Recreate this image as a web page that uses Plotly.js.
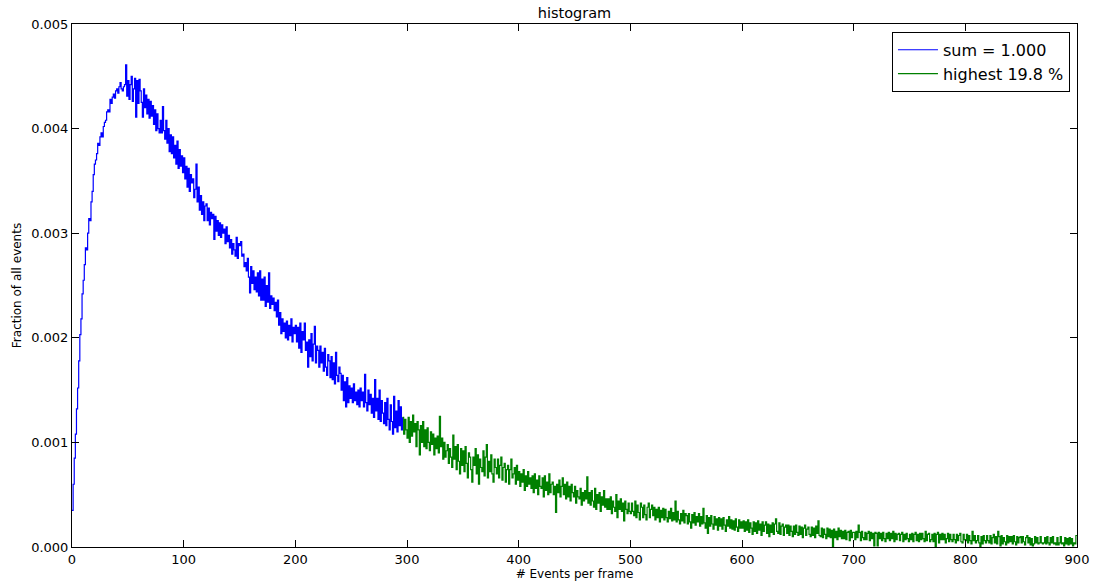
<!DOCTYPE html>
<html><head><meta charset="utf-8">
<script src="https://cdn.plot.ly/plotly-3.0.1.min.js"></script>
<style>html,body{margin:0;padding:0;background:#fff}#chart{width:1094px;height:587px}</style>
</head><body><div id="chart"></div>
<script>
// Histogram: fraction of all events per bin (bin width 1 event)
const binStart = 0;
const binWidth = 1;
const highestStartBin = 296;

// bins 0..295
const fractionBlue = [
0.00035,0.00060,0.00085,0.00108,0.00132,0.00152,0.00178,0.00203,0.00218,0.00242,
0.00255,0.00270,0.00286,0.00284,0.00300,0.00314,0.00312,0.00330,0.00340,0.00356,
0.00366,0.00370,0.00376,0.00386,0.00384,0.00392,0.00396,0.00392,0.00402,0.00406,
0.00408,0.00416,0.00418,0.00416,0.00428,0.00424,0.00430,0.00433,0.00429,0.00436,
0.00438,0.00434,0.00440,0.00444,0.00438,0.00436,0.00440,0.00442,0.00461,0.00431,
0.00446,0.00428,0.00442,0.00450,0.00426,0.00438,0.00448,0.00411,0.00446,0.00424,
0.00447,0.00436,0.00425,0.00411,0.00438,0.00420,0.00432,0.00414,0.00428,0.00410,
0.00426,0.00412,0.00422,0.00404,0.00418,0.00398,0.00414,0.00400,0.00396,0.00408,
0.00396,0.00421,0.00398,0.00390,0.00408,0.00386,0.00400,0.00378,0.00394,0.00376,
0.00392,0.00372,0.00384,0.00366,0.00388,0.00362,0.00380,0.00364,0.00374,0.00358,
0.00372,0.00352,0.00364,0.00344,0.00362,0.00340,0.00356,0.00348,0.00352,0.00334,
0.00342,0.00366,0.00330,0.00344,0.00322,0.00336,0.00318,0.00330,0.00312,0.00326,
0.00328,0.00312,0.00324,0.00308,0.00320,0.00314,0.00318,0.00294,0.00316,0.00302,
0.00312,0.00298,0.00310,0.00296,0.00308,0.00300,0.00304,0.00290,0.00306,0.00292,
0.00298,0.00286,0.00294,0.00280,0.00290,0.00284,0.00278,0.00296,0.00276,0.00290,
0.00288,0.00292,0.00278,0.00280,0.00268,0.00272,0.00264,0.00276,0.00258,0.00243,
0.00268,0.00252,0.00264,0.00246,0.00258,0.00244,0.00262,0.00240,0.00264,0.00236,
0.00256,0.00236,0.00258,0.00230,0.00250,0.00234,0.00262,0.00228,0.00240,0.00232,
0.00238,0.00226,0.00234,0.00220,0.00236,0.00212,0.00224,0.00204,0.00218,0.00206,
0.00214,0.00200,0.00216,0.00198,0.00212,0.00202,0.00218,0.00196,0.00210,0.00204,
0.00212,0.00196,0.00210,0.00190,0.00214,0.00186,0.00206,0.00198,0.00214,0.00188,
0.00196,0.00172,0.00198,0.00182,0.00204,0.00178,0.00194,0.00211,0.00176,0.00192,
0.00188,0.00172,0.00192,0.00176,0.00186,0.00168,0.00190,0.00172,0.00164,0.00184,
0.00178,0.00162,0.00182,0.00160,0.00176,0.00156,0.00186,0.00164,0.00158,0.00172,
0.00166,0.00150,0.00164,0.00140,0.00158,0.00134,0.00162,0.00138,0.00154,0.00142,
0.00152,0.00138,0.00156,0.00140,0.00148,0.00136,0.00150,0.00134,0.00152,0.00140,
0.00148,0.00134,0.00165,0.00138,0.00130,0.00150,0.00136,0.00146,0.00128,0.00142,
0.00124,0.00160,0.00130,0.00142,0.00122,0.00150,0.00120,0.00140,0.00128,0.00118,
0.00138,0.00116,0.00142,0.00122,0.00112,0.00136,0.00120,0.00108,0.00144,0.00114,
0.00130,0.00110,0.00140,0.00116,0.00134,0.00112
];

// bins 296..899 (highest 19.8 %)
const fractionGreen = [
0.00124,0.00108,0.00122,0.00112,
0.00104,0.00124,0.00100,0.00120,0.00106,0.00126,0.00110,0.00118,0.00096,0.00120,
0.00112,0.00088,0.00116,0.00100,0.00120,0.00096,0.00112,0.00094,0.00114,0.00100,
0.00092,0.00110,0.00098,0.00108,0.00088,0.00104,0.00094,0.00106,0.00090,0.00125,
0.00096,0.00104,0.00084,0.00100,0.00086,0.00092,0.00098,0.00080,0.00094,0.00086,
0.00076,0.00107,0.00084,0.00096,0.00074,0.00098,0.00082,0.00070,0.00094,0.00078,
0.00092,0.00072,0.00096,0.00080,0.00066,0.00090,0.00086,0.00074,0.00062,0.00086,
0.00078,0.00094,0.00070,0.00088,0.00060,0.00084,0.00076,0.00072,0.00092,0.00068,
0.00086,0.00098,0.00066,0.00082,0.00072,0.00088,0.00070,0.00062,0.00084,0.00076,
0.00070,0.00084,0.00066,0.00078,0.00086,0.00064,0.00076,0.00080,0.00062,0.00074,
0.00078,0.00060,0.00074,0.00084,0.00066,0.00070,0.00076,0.00060,0.00078,0.00064,
0.00072,0.00058,0.00070,0.00062,0.00074,0.00054,0.00068,0.00058,0.00072,0.00060,
0.00066,0.00056,0.00068,0.00052,0.00070,0.00056,0.00064,0.00050,0.00068,0.00058,
0.00056,0.00066,0.00048,0.00068,0.00054,0.00062,0.00050,0.00070,0.00052,0.00060,
0.00062,0.00050,0.00058,0.00033,0.00060,0.00052,0.00064,0.00048,0.00058,0.00066,
0.00050,0.00060,0.00046,0.00062,0.00048,0.00058,0.00044,0.00060,0.00052,0.00048,
0.00058,0.00042,0.00054,0.00048,0.00046,0.00056,0.00040,0.00052,0.00044,0.00054,
0.00046,0.00067,0.00042,0.00052,0.00040,0.00054,0.00044,0.00038,0.00056,0.00036,
0.00050,0.00042,0.00052,0.00034,0.00048,0.00040,0.00054,0.00038,0.00046,0.00036,
0.00046,0.00036,0.00048,0.00032,0.00044,0.00038,0.00034,0.00050,0.00028,0.00044,
0.00036,0.00046,0.00034,0.00042,0.00025,0.00044,0.00036,0.00032,0.00042,0.00034,
0.00032,0.00042,0.00034,0.00030,0.00044,0.00028,0.00040,0.00033,0.00026,0.00042,
0.00038,0.00028,0.00040,0.00031,0.00026,0.00038,0.00042,0.00028,0.00036,0.00040,
0.00030,0.00038,0.00026,0.00036,0.00028,0.00038,0.00024,0.00035,0.00028,0.00037,
0.00026,0.00036,0.00028,0.00024,0.00034,0.00027,0.00037,0.00025,0.00033,0.00026,
0.00044,0.00024,0.00034,0.00026,0.00022,0.00032,0.00025,0.00035,0.00023,0.00032,
0.00030,0.00022,0.00032,0.00024,0.00018,0.00031,0.00023,0.00033,0.00021,0.00029,
0.00024,0.00032,0.00020,0.00029,0.00022,0.00037,0.00023,0.00018,0.00030,0.00013,
0.00028,0.00020,0.00030,0.00022,0.00017,0.00029,0.00021,0.00027,0.00016,0.00028,
0.00020,0.00027,0.00017,0.00028,0.00021,0.00015,0.00026,0.00020,0.00029,0.00018,
0.00026,0.00017,0.00025,0.00016,0.00027,0.00019,0.00015,0.00026,0.00018,0.00024,
0.00018,0.00025,0.00015,0.00024,0.00016,0.00026,0.00014,0.00023,0.00018,0.00012,
0.00024,0.00015,0.00023,0.00013,0.00025,0.00016,0.00022,0.00011,0.00024,0.00015,
0.00021,0.00024,0.00013,0.00022,0.00010,0.00021,0.00014,0.00023,0.00012,0.00022,
0.00027,0.00015,0.00013,0.00023,0.00012,0.00020,0.00022,0.00011,0.00019,0.00021,
0.00013,0.00021,0.00011,0.00020,0.00015,0.00010,0.00020,0.00012,0.00021,0.00014,
0.00011,0.00020,0.00012,0.00019,0.00009,0.00018,0.00021,0.00011,0.00017,0.00019,
0.00012,0.00010,0.00019,0.00011,0.00018,0.00009,0.00020,0.00013,0.00025,0.00011,
0.00010,0.00018,0.00009,0.00017,0.00012,0.00008,0.00018,0.00010,0.00017,0.00009,
0.00016,0.00000,0.00017,0.00009,0.00015,0.00007,0.00018,0.00010,0.00016,0.00008,
0.00015,0.00008,0.00016,0.00007,0.00014,0.00015,0.00006,0.00016,0.00009,0.00014,
0.00014,0.00007,0.00015,0.00009,0.00021,0.00014,0.00006,0.00015,0.00009,0.00007,
0.00014,0.00007,0.00013,0.00015,0.00006,0.00014,0.00008,0.00013,0.00001,0.00014,
0.00013,0.00001,0.00014,0.00008,0.00013,0.00006,0.00014,0.00008,0.00005,0.00013,
0.00008,0.00014,0.00006,0.00013,0.00008,0.00015,0.00005,0.00013,0.00007,0.00012,
0.00013,0.00006,0.00012,0.00014,0.00005,0.00012,0.00007,0.00013,0.00008,0.00005,
0.00012,0.00007,0.00013,0.00005,0.00012,0.00014,0.00006,0.00012,0.00005,0.00013,
0.00007,0.00013,0.00008,0.00005,0.00015,0.00006,0.00012,0.00013,0.00005,0.00007,
0.00012,0.00005,0.00013,0.00000,0.00012,0.00014,0.00004,0.00012,0.00007,0.00013,
0.00007,0.00012,0.00004,0.00008,0.00013,0.00005,0.00012,0.00007,0.00005,0.00012,
0.00007,0.00004,0.00012,0.00006,0.00011,0.00013,0.00005,0.00004,0.00012,0.00007,
0.00006,0.00012,0.00004,0.00011,0.00006,0.00003,0.00015,0.00006,0.00011,0.00004,
0.00006,0.00011,0.00004,0.00000,0.00010,0.00003,0.00011,0.00006,0.00004,0.00011,
0.00006,0.00004,0.00011,0.00003,0.00009,0.00012,0.00004,0.00010,0.00003,0.00015,
0.00010,0.00001,0.00011,0.00003,0.00009,0.00005,0.00002,0.00011,0.00004,0.00010,
0.00005,0.00010,0.00003,0.00011,0.00005,0.00002,0.00010,0.00004,0.00009,0.00010,
0.00004,0.00010,0.00005,0.00002,0.00009,0.00011,0.00004,0.00009,0.00002,0.00008,
0.00001,0.00003,0.00010,0.00004,0.00009,0.00003,0.00004,0.00010,0.00004,0.00003,
0.00004,0.00009,0.00003,0.00010,0.00004,0.00002,0.00009,0.00004,0.00010,0.00003,
0.00004,0.00002,0.00009,0.00002,0.00004,0.00010,0.00003,0.00004,0.00001,0.00009,
0.00003,0.00008,0.00002,0.00009,0.00003,0.00008,0.00001,0.00004,0.00003,0.00011
];

const legendLabels = ['sum = 1.000', 'highest 19.8 %'];
const chartTitle = 'histogram';
const xAxisTitle = '# Events per frame';
const yAxisTitle = 'Fraction of all events';
const xTickValues = [0, 100, 200, 300, 400, 500, 600, 700, 800, 900];
const yTickValues = [0, 0.001, 0.002, 0.003, 0.004, 0.005];

// step outline: bin i spans [i, i+1]; extra closing point so the last bin is drawn
const blueY = fractionBlue.concat([fractionGreen[0]]);
const greenY = fractionGreen.concat([fractionGreen[fractionGreen.length - 1]]);

const traces = [
  {type: 'scatter', mode: 'lines', name: legendLabels[0], x0: binStart, dx: binWidth, y: blueY,
   line: {shape: 'hv', color: '#0000ff', width: 1.2}},
  {type: 'scatter', mode: 'lines', name: legendLabels[1], x0: highestStartBin, dx: binWidth, y: greenY,
   line: {shape: 'hv', color: '#008000', width: 1.2}}
];

const axisCommon = {
  ticks: 'inside', ticklen: 7, tickwidth: 1, tickcolor: '#000',
  showline: true, linecolor: '#000', linewidth: 1, mirror: 'ticks',
  showgrid: false, zeroline: false,
  tickfont: {family: 'DejaVu Sans, sans-serif', size: 13, color: '#000'}
};

const layout = {
  width: 1094, height: 587,
  margin: {l: 72, r: 17, t: 24, b: 40, pad: 0},
  paper_bgcolor: '#fff', plot_bgcolor: '#fff',
  font: {family: 'DejaVu Sans, sans-serif', size: 13, color: '#000'},
  showlegend: true,
  title: {text: chartTitle, x: 0.5, xref: 'paper', xanchor: 'center', y: 0.978, yref: 'container', yanchor: 'middle',
          font: {family: 'DejaVu Sans, sans-serif', size: 14.5, color: '#000'}},
  xaxis: Object.assign({}, axisCommon, {
    range: [0, 900], tickvals: xTickValues, tickformat: 'd',
    title: {text: xAxisTitle, standoff: 4, font: {family: 'DejaVu Sans, sans-serif', size: 12, color: '#000'}}
  }),
  yaxis: Object.assign({}, axisCommon, {
    range: [0, 0.005], tickvals: yTickValues, tickformat: '.3f',
    title: {text: yAxisTitle, standoff: 6, font: {family: 'DejaVu Sans, sans-serif', size: 12, color: '#000'}}
  }),
  legend: {x: 0.993, y: 0.985, xanchor: 'right', yanchor: 'top', bgcolor: '#fff',
           bordercolor: '#000', borderwidth: 1, itemwidth: 40,
           font: {family: 'DejaVu Sans, sans-serif', size: 16, color: '#000'}}
};

Plotly.newPlot('chart', traces, layout, {displayModeBar: false, staticPlot: true});
</script>
</body></html>
